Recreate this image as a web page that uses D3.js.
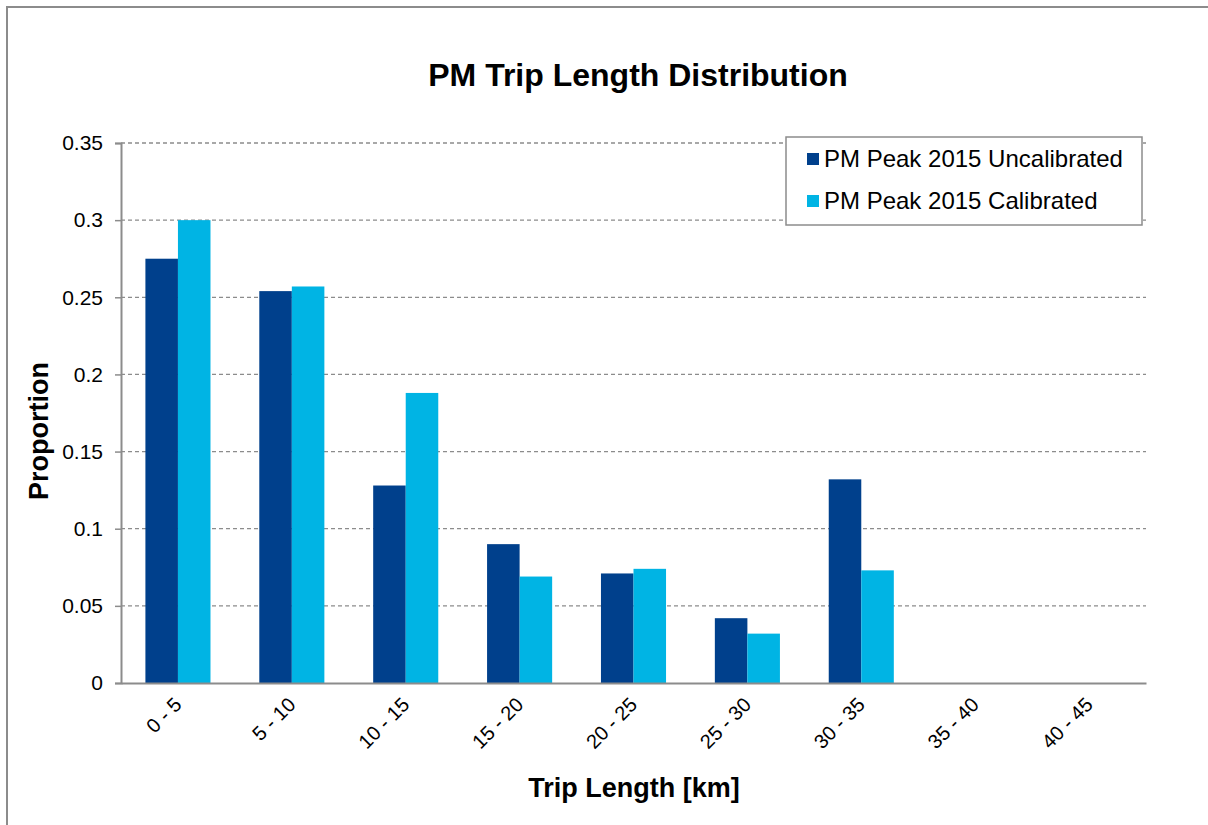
<!DOCTYPE html>
<html lang="en">
<head>
  <meta charset="utf-8">
  <script src="https://d3js.org/d3.v7.min.js"></script>
  <style>
    body { margin: 0; background: #fff; }
    text { font-family: "Liberation Sans", Arial, sans-serif; }
  </style>
</head>
<body>
  <script>
    // data
    var categories = ["0 - 5", "5 - 10", "10 - 15", "15 - 20", "20 - 25", "25 - 30", "30 - 35", "35 - 40", "40 - 45"];
    var uncalibrated = [0.275, 0.254, 0.128, 0.090, 0.071, 0.042, 0.132, 0, 0];
    var calibrated = [0.300, 0.257, 0.188, 0.069, 0.074, 0.032, 0.073, 0, 0];
    var seriesNames = ["PM Peak 2015 Uncalibrated", "PM Peak 2015 Calibrated"];
    var seriesColors = ["#00408c", "#00b4e4"];
    var yTicks = [0, 0.05, 0.1, 0.15, 0.2, 0.25, 0.3, 0.35];

    const W = 1208, H = 825;
    const plotLeft = 121, plotRight = 1146, plotTop = 143, plotBottom = 683;

    const svg = d3.select("body").append("svg")
      .attr("width", W).attr("height", H);

    // outer chart border
    svg.append("rect")
      .attr("x", 7).attr("y", 7)
      .attr("width", W + 20).attr("height", H + 20)
      .attr("fill", "#fff").attr("stroke", "#8c8c8c").attr("stroke-width", 2);

    var x = d3.scaleBand().domain(categories).range([plotLeft, plotRight]).padding(0);
    var y = d3.scaleLinear().domain([0, 0.35]).range([plotBottom, plotTop]);

    // gridlines
    svg.append("g").selectAll("line")
      .data(yTicks.filter(d => d > 0)).enter()
      .append("line")
      .attr("x1", plotLeft).attr("x2", plotRight)
      .attr("y1", d => y(d)).attr("y2", d => y(d))
      .attr("stroke", "#8c8c8c").attr("stroke-width", 1.3)
      .attr("stroke-dasharray", "4,3");

    // bars
    var inner = d3.scaleBand().domain([0, 1])
      .range([0, x.bandwidth()]).paddingOuter(0.75).paddingInner(0);
    var rows = categories.map((c, i) => ({ cat: c, vals: [uncalibrated[i], calibrated[i]] }));
    var groups = svg.append("g").selectAll("g")
      .data(rows).enter()
      .append("g")
      .attr("transform", d => "translate(" + x(d.cat) + ",0)");
    groups.selectAll("rect")
      .data(d => d.vals.map((v, j) => ({ v: v, j: j }))).enter()
      .append("rect")
      .attr("x", d => inner(d.j))
      .attr("width", inner.bandwidth())
      .attr("y", d => y(d.v))
      .attr("height", d => plotBottom - y(d.v))
      .attr("fill", d => seriesColors[d.j]);

    // y axis
    var yAxis = d3.axisLeft(y).tickValues(yTicks).tickSize(6).tickPadding(12)
      .tickFormat(d => d3.format("")(+d.toFixed(2)));
    var gy = svg.append("g").attr("transform", "translate(" + plotLeft + ",0)").call(yAxis);
    gy.select(".domain").attr("stroke", "#8c8c8c").attr("stroke-width", 2);
    gy.selectAll(".tick line").attr("stroke", "#8c8c8c").attr("stroke-width", 1.5);
    gy.selectAll(".tick text").attr("font-size", 21).attr("fill", "#000")
      .attr("font-family", "Liberation Sans, Arial, sans-serif");

    // x axis
    var xAxis = d3.axisBottom(x).tickSize(0).tickPadding(0);
    var gx = svg.append("g").attr("transform", "translate(0," + plotBottom + ")").call(xAxis);
    gx.select(".domain").attr("stroke", "#8c8c8c").attr("stroke-width", 2);
    gx.selectAll(".tick text")
      .attr("font-size", 20).attr("fill", "#000")
      .attr("font-family", "Liberation Sans, Arial, sans-serif")
      .attr("text-anchor", "end")
      .attr("dy", "0.35em")
      .attr("transform", "translate(0,18) rotate(-45)");

    // title and axis labels
    svg.append("text").attr("x", 638).attr("y", 86)
      .attr("text-anchor", "middle").attr("font-size", 32).attr("font-weight", "bold")
      .text("PM Trip Length Distribution");
    svg.append("text").attr("x", 634).attr("y", 797)
      .attr("text-anchor", "middle").attr("font-size", 27).attr("font-weight", "bold")
      .text("Trip Length [km]");
    svg.append("text")
      .attr("transform", "translate(48,431) rotate(-90)")
      .attr("text-anchor", "middle").attr("font-size", 27).attr("font-weight", "bold")
      .text("Proportion");

    // legend
    var lg = svg.append("g").attr("transform", "translate(786,137)");
    lg.append("rect").attr("width", 356).attr("height", 88)
      .attr("fill", "#fff").attr("stroke", "#8c8c8c").attr("stroke-width", 1.5);
    var items = lg.selectAll("g.item").data(seriesNames).enter()
      .append("g").attr("class", "item")
      .attr("transform", (d, i) => "translate(0," + (22 + i * 42) + ")");
    items.append("rect").attr("x", 21).attr("y", -6).attr("width", 12).attr("height", 12)
      .attr("fill", (d, i) => seriesColors[i]);
    items.append("text").attr("x", 38).attr("y", 8)
      .attr("font-size", 24).attr("fill", "#000").text(d => d);
  </script>
</body>
</html>
